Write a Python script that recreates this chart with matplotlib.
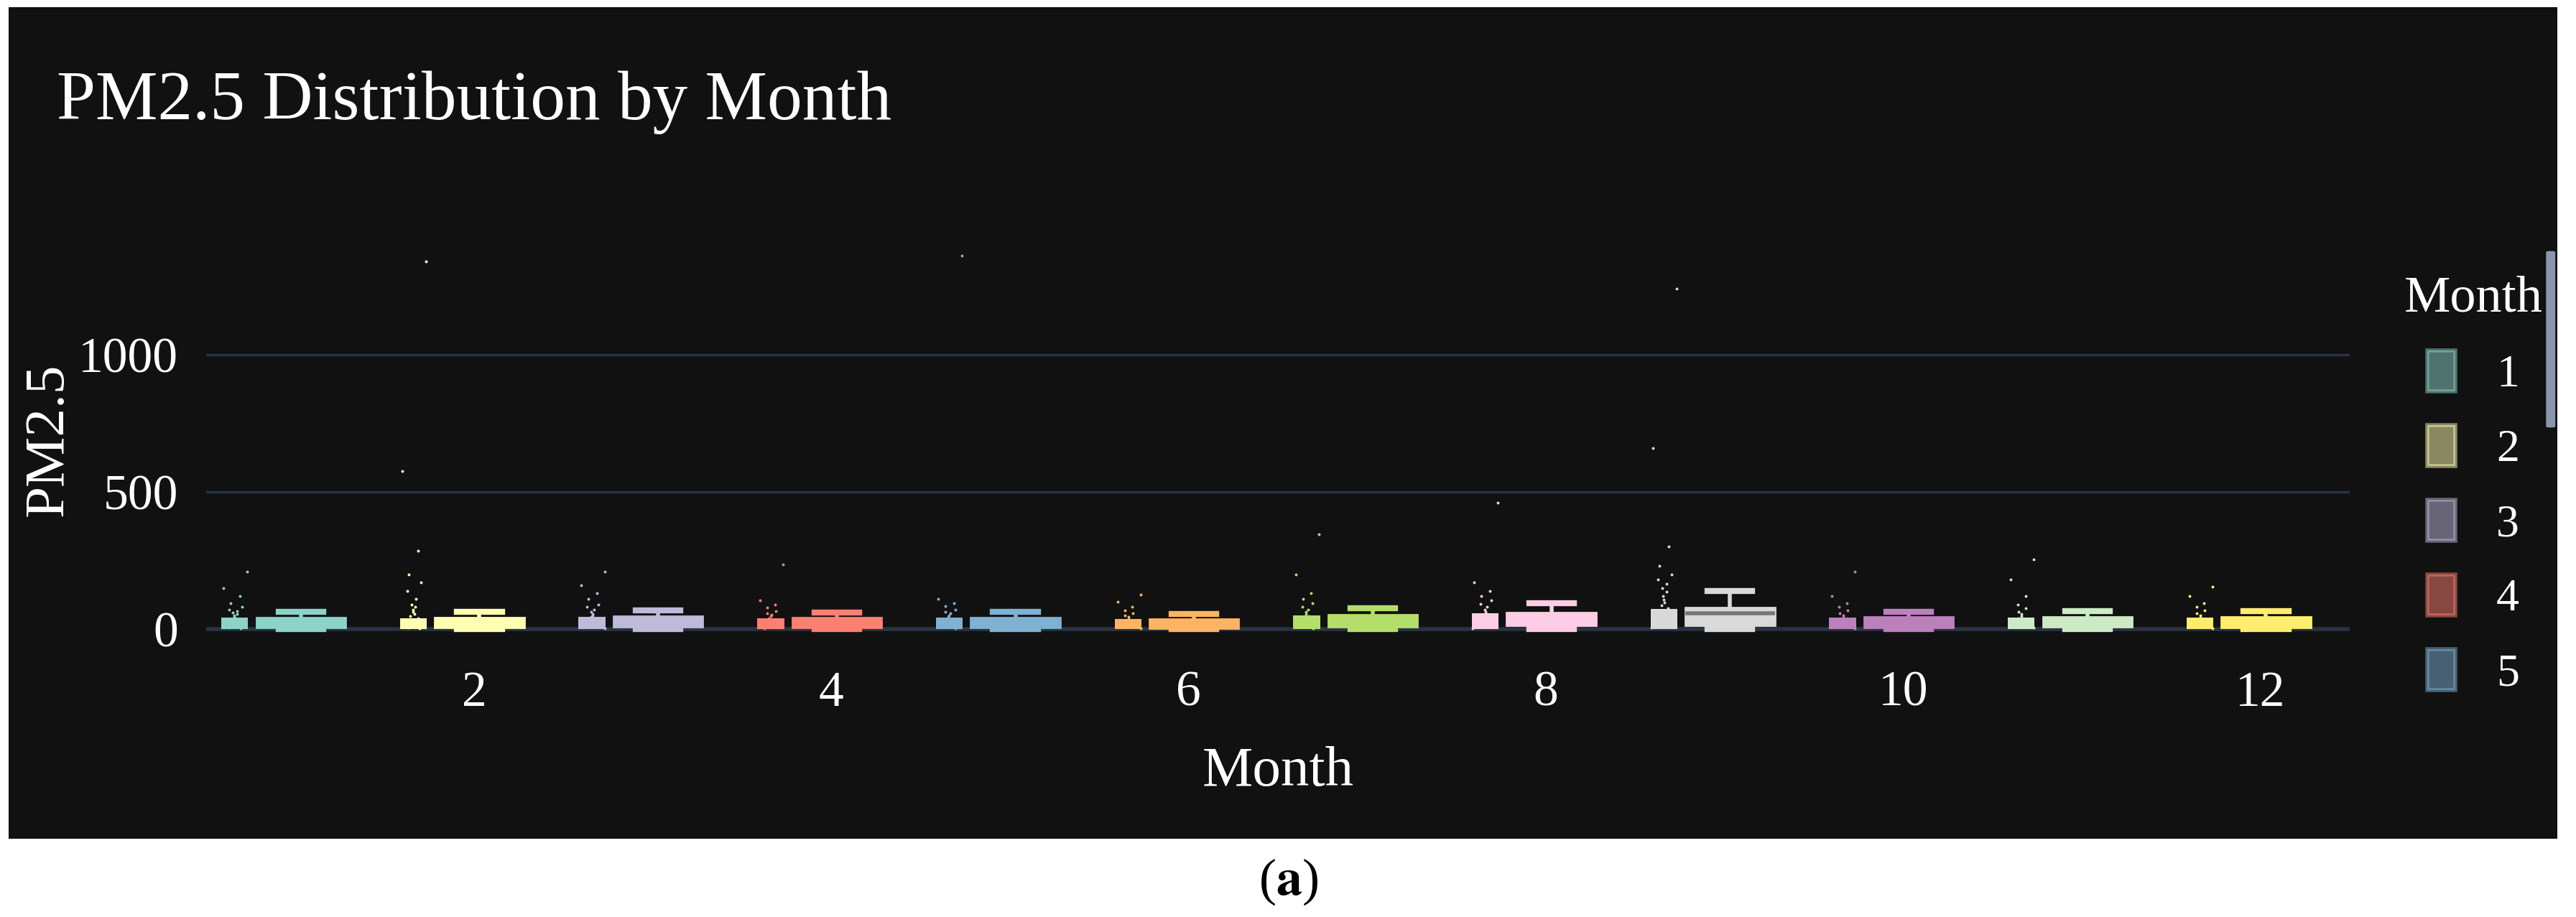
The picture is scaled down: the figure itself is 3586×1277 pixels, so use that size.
import numpy as np
import matplotlib.pyplot as plt
from matplotlib.patches import Patch, Rectangle, FancyBboxPatch

plt.rcParams['font.family'] = ['Liberation Serif', 'DejaVu Serif']
plt.rcParams['mathtext.fontset'] = 'stix'

# Colours of the months (Set3)
colors = ['#8dd3c7', '#ffffb3', '#bebada', '#fb8072', '#80b1d3', '#fdb462',
          '#b3de69', '#fccde5', '#d9d9d9', '#bc80bd', '#ccebc5', '#ffed6f']

# Box statistics per month: (whislo, q1, med, q3, whishi)
stats = {1: (0, 6, 20, 43, 62), 2: (0, 5, 22, 42, 64), 3: (0, 8, 24, 47, 68),
         4: (0, 5, 20, 42, 60), 5: (0, 6, 21, 43, 62), 6: (0, 4, 17, 38, 56),
         7: (0, 8, 27, 52, 76), 8: (0, 12, 33, 60, 95), 9: (0, 14, 57, 78, 139),
         10: (0, 6, 20, 44, 64), 11: (0, 7, 22, 45, 65), 12: (0, 6, 21, 45, 66)}

# Sampled points per month (bulk and outliers)
points = {1: [210, 150, 120, 95, 80, 72, 66, 60, 55, 50, 45, 40, 35, 30, 25, 20, 15, 10, 5, 2],
          2: [1340, 575, 285, 200, 170, 140, 110, 90, 80, 70, 62, 55, 48, 40, 32, 25, 18, 12, 6, 2],
          3: [210, 160, 130, 110, 90, 80, 70, 62, 56, 50, 44, 38, 32, 26, 20, 14, 8, 3],
          4: [235, 105, 90, 78, 66, 58, 52, 46, 40, 34, 28, 22, 16, 10, 4],
          5: [1360, 110, 95, 85, 72, 64, 57, 50, 44, 38, 32, 26, 20, 14, 8, 3],
          6: [125, 100, 80, 68, 58, 50, 44, 38, 32, 26, 20, 14, 8, 3],
          7: [345, 200, 130, 110, 95, 82, 72, 64, 56, 48, 40, 32, 24, 16, 8, 3],
          8: [460, 170, 140, 120, 105, 92, 82, 72, 64, 56, 48, 40, 32, 24, 16, 8, 3],
          9: [1240, 660, 300, 230, 200, 180, 165, 150, 135, 120, 108, 96, 86, 76, 66, 56, 46, 36, 26, 16, 6],
          10: [210, 120, 95, 80, 68, 58, 50, 43, 36, 29, 22, 15, 8, 3],
          11: [255, 180, 120, 90, 75, 64, 55, 47, 40, 33, 26, 19, 12, 5],
          12: [155, 120, 95, 80, 68, 58, 50, 43, 36, 29, 22, 15, 8, 3]}

fig = plt.figure(figsize=(35.87, 12.77), dpi=100, facecolor='white')
fig.patches.append(Rectangle((0.0033, 0.085), 0.9892, 0.907, transform=fig.transFigure,
                             facecolor='#111111', edgecolor='none', zorder=-10))
ax = fig.add_axes([0.080, 0.299, 0.832, 0.443])
ax.set_facecolor('#111111')

for m in range(1, 13):
    c = colors[m - 1]
    vals = np.array(points[m])
    offs = np.linspace(-0.07, 0.07, len(vals))[::-1] * np.resize([1, -1, 0.5, -0.5], len(vals))
    ax.scatter(m - 0.34 + offs, vals, s=8, color=c, linewidths=0, zorder=3)
    ax.bar(m - 0.34, stats[m][3] * 0.95, width=0.15, color=c, zorder=2)
    lo, q1, med, q3, hi = stats[m]
    ax.bxp([dict(whislo=lo, q1=q1, med=med, q3=q3, whishi=hi, fliers=[])],
           positions=[m + 0.03], widths=0.5, patch_artist=True, showfliers=False,
           manage_ticks=False,
           boxprops=dict(facecolor=c, edgecolor=c, linewidth=2),
           medianprops=dict(color='#777777' if m == 9 else c, linewidth=4),
           whiskerprops=dict(color=c, linewidth=4),
           capprops=dict(color=c, linewidth=6), capwidths=0.25, zorder=4)

ax.set_xlim(0.5, 12.5)
ax.set_ylim(-50, 1430)
ax.set_xticks([2, 4, 6, 8, 10, 12])
ax.set_yticks([0, 500, 1000])
ax.grid(axis='y', color='#283442', linewidth=2.5, zorder=0)
ax.axhline(0, color='#283442', linewidth=4, zorder=1)
for s in ax.spines.values():
    s.set_visible(False)
ax.tick_params(colors='white', labelsize=50, length=0, pad=28)
ax.set_xlabel('Month', color='white', fontsize=57, labelpad=30)
ax.set_ylabel('PM2.5', color='white', fontsize=57, labelpad=4)

fig.text(0.022, 0.888, 'PM2.5 Distribution by Month', color='white', fontsize=70, va='center')

handles = [Patch(facecolor=colors[i], edgecolor=colors[i], alpha=0.5, linewidth=4) for i in range(5)]
leg = fig.legend(handles, ['1', '2', '3', '4', '5'], title='Month', loc='upper left',
                 bbox_to_anchor=(0.917, 0.745), frameon=False, fontsize=46,
                 title_fontsize=52, labelspacing=0.62, handlelength=0.6, handleheight=1.0,
                 handletextpad=0.9)
leg.get_title().set_color('white')
for t in leg.get_texts():
    t.set_color('white')
for h in leg.legend_handles:
    h.set_edgecolor(h.get_facecolor()[:3])

fig.patches.append(FancyBboxPatch((0.9893, 0.535), 0.0012, 0.19, boxstyle='round,pad=0.0012',
                                  transform=fig.transFigure, facecolor='#8a95ad', edgecolor='none'))

fig.text(0.5, 0.038, '(' + r'$\mathbf{a}$' + ')', color='black', fontsize=52, ha='center', va='center')

fig.savefig('out.png', dpi=100, facecolor='white')
